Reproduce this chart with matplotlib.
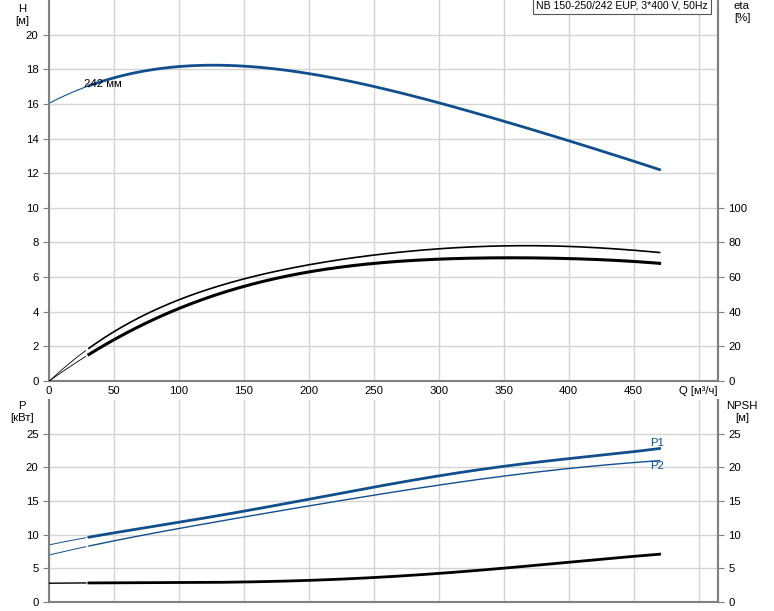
import numpy as np
import matplotlib
matplotlib.use("Agg")
import matplotlib.pyplot as plt

# ---- data ----
q_h = [0, 30, 50, 100, 125, 150, 200, 250, 300, 350, 400, 470]
h_vals = [16.0, 17.1, 17.5, 18.1, 18.25, 18.15, 17.8, 17.05, 16.0, 15.0, 13.9, 12.2]

q_eta = [0, 30, 50, 100, 150, 200, 250, 300, 350, 400, 470]
eta_total = [0, 18, 28.5, 47, 59.5, 67, 71.5, 77.2, 78.4, 77.2, 74.3]
eta_pump = [0, 15, 23.5, 42, 55, 63, 67, 70.9, 71.5, 70.3, 68.0]

q_p = [0, 30, 100, 200, 300, 350, 400, 470]
p1_vals = [8.5, 9.55, 11.9, 15.2, 18.8, 20.1, 21.3, 22.8]
p2_vals = [7.0, 8.2, 11.0, 14.2, 17.4, 18.7, 19.8, 21.0]

q_npsh = [0, 30, 100, 200, 250, 300, 350, 400, 470]
npsh_vals = [2.8, 2.8, 2.9, 3.2, 3.6, 4.3, 5.0, 5.9, 7.1]

x_ticks = [0, 50, 100, 150, 200, 250, 300, 350, 400, 450]
title = "NB 150-250/242 EUP, 3*400 V, 50Hz"

BLUE = "#114f8c"
GRID = "#d4d4d4"
SPINE = "#808080"
FS = 8.2

def smooth(xs, ys, x0, x1, n=200):
    xs = np.asarray(xs, float); ys = np.asarray(ys, float)
    deg = min(len(xs) - 1, 5)
    c = np.polyfit(xs, ys, deg)
    xx = np.linspace(x0, x1, n)
    return xx, np.polyval(c, xx)

plt.rcParams['font.family'] = ['Liberation Sans', 'DejaVu Sans']
fig = plt.figure(figsize=(7.74, 6.11), dpi=100)
ax1 = fig.add_axes([49/774, 1-381/611, (718-49)/774, 381/611])
ax2 = fig.add_axes([49/774, 1-602/611, (718-49)/774, (602-400)/611])

XMAX = 515
for ax in (ax1, ax2):
    ax.set_xlim(0, XMAX)
    ax.set_xticks(x_ticks + [500])
    ax.grid(True, color=GRID, lw=1)
    ax.set_axisbelow(True)
    ax.spines['top'].set_visible(False)
    for s in ('left', 'right', 'bottom'):
        ax.spines[s].set_color(SPINE)
        ax.spines[s].set_linewidth(1.5)
    ax.tick_params(labelsize=FS, color=SPINE, length=4)

# ---- top panel ----
ax1.set_ylim(0, 22)
ax1.set_yticks(range(0, 21, 2))
ax1.set_xticklabels([str(t) for t in x_ticks] + ["Q [м³/ч]"])
ax1.tick_params(axis='x', length=0)

xx, yy = smooth(q_h, h_vals, 0, 470)
ax1.plot(xx[xx <= 30], yy[xx <= 30], color=BLUE, lw=0.8)
ax1.plot(xx[xx >= 30], yy[xx >= 30], color=BLUE, lw=2)
ax1.text(27, 17.0, "242 мм", fontsize=FS)

ax1r = ax1.twinx()
ax1r.set_ylim(0, 220)
ax1r.set_yticks(range(0, 101, 20))
ax1r.tick_params(labelsize=FS, color=SPINE, length=4)
for s in ('top', 'left', 'bottom'):
    ax1r.spines[s].set_visible(False)
ax1r.spines['right'].set_color(SPINE)
ax1r.spines['right'].set_linewidth(1.5)

for vals, lw in ((eta_total, 1.2), (eta_pump, 2.2)):
    xx, yy = smooth(q_eta, vals, 0, 470)
    ax1r.plot(xx[xx <= 30], yy[xx <= 30], color='black', lw=0.6)
    ax1r.plot(xx[xx >= 30], yy[xx >= 30], color='black', lw=lw)

ax1.text(0.985, 0.998, title, transform=ax1.transAxes, ha='right', va='top', fontsize=7.6,
         bbox=dict(facecolor='white', edgecolor='#555555', lw=0.8, pad=2))

fig.text(22/774, 1-15/611, "H\n[м]", ha='center', va='center', fontsize=FS, linespacing=1.3)
fig.text(742/774, 1-12/611, "eta\n[%]", ha='center', va='center', fontsize=FS, linespacing=1.3)

# ---- bottom panel ----
ax2.set_ylim(0, 30)
ax2.set_yticks(range(0, 26, 5))
ax2.tick_params(axis='x', labelbottom=False, length=0)

for vals, lw in ((p1_vals, 2.0), (p2_vals, 1.0)):
    xx, yy = smooth(q_p, vals, 0, 470)
    ax2.plot(xx[xx <= 30], yy[xx <= 30], color=BLUE, lw=0.7)
    ax2.plot(xx[xx >= 30], yy[xx >= 30], color=BLUE, lw=lw)
ax2.text(463, 22.9, "P1", fontsize=FS, color=BLUE, va='bottom', ha='left')
ax2.text(463, 20.9, "P2", fontsize=FS, color=BLUE, va='top', ha='left')

ax2r = ax2.twinx()
ax2r.set_ylim(0, 30)
ax2r.set_yticks(range(0, 26, 5))
ax2r.tick_params(labelsize=FS, color=SPINE, length=4)
for s in ('top', 'left', 'bottom'):
    ax2r.spines[s].set_visible(False)
ax2r.spines['right'].set_color(SPINE)
ax2r.spines['right'].set_linewidth(1.5)
xx, yy = smooth(q_npsh, npsh_vals, 0, 470)
ax2r.plot(xx[xx <= 30], yy[xx <= 30], color='black', lw=1.0)
ax2r.plot(xx[xx >= 30], yy[xx >= 30], color='black', lw=2.0)

fig.text(22/774, 1-412/611, "P\n[кВт]", ha='center', va='center', fontsize=FS, linespacing=1.3)
fig.text(742/774, 1-412/611, "NPSH\n[м]", ha='center', va='center', fontsize=FS, linespacing=1.3)

fig.savefig("out.png", dpi=100)
